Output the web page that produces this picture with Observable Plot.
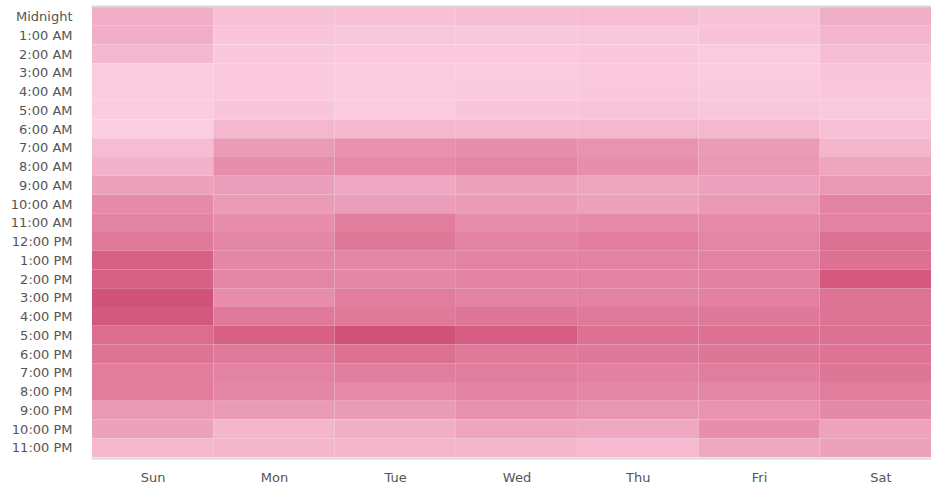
<!DOCTYPE html>
<html>
<head>
<meta charset="utf-8">
<script src="https://cdn.jsdelivr.net/npm/d3@7"></script>
<script src="https://cdn.jsdelivr.net/npm/@observablehq/plot@0.6"></script>
<style>
  html, body { margin: 0; padding: 0; background: #fff; overflow: hidden; }
  #chart svg { display: block; max-width: none !important; }
</style>
</head>
<body>
<div id="chart"></div>
<script>
const days = ["Sun", "Mon", "Tue", "Wed", "Thu", "Fri", "Sat"];
const hours = ["Midnight", "1:00 AM", "2:00 AM", "3:00 AM", "4:00 AM", "5:00 AM", "6:00 AM", "7:00 AM", "8:00 AM", "9:00 AM", "10:00 AM", "11:00 AM", "12:00 PM", "1:00 PM", "2:00 PM", "3:00 PM", "4:00 PM", "5:00 PM", "6:00 PM", "7:00 PM", "8:00 PM", "9:00 PM", "10:00 PM", "11:00 PM"];

// relative activity (0 = lightest, 100 = darkest), one array per day, Midnight..11 PM
const sun = [25, 25, 18, 3, 3, 3, 2, 15, 22, 35, 52, 58, 65, 85, 85, 95, 90, 75, 70, 62, 62, 42, 35, 18];
const mon = [12, 8, 6, 5, 5, 8, 18, 40, 50, 38, 40, 50, 55, 55, 57, 50, 65, 85, 65, 58, 55, 40, 20, 20];
const tue = [12, 7, 5, 3, 4, 4, 18, 48, 52, 30, 38, 62, 66, 55, 55, 62, 65, 95, 72, 62, 52, 40, 25, 20];
const wed = [14, 6, 5, 4, 5, 8, 18, 50, 56, 35, 40, 50, 58, 58, 58, 58, 68, 88, 65, 62, 58, 48, 32, 20];
const thu = [15, 7, 6, 5, 6, 9, 18, 46, 50, 32, 35, 52, 62, 58, 58, 58, 65, 72, 66, 60, 55, 44, 30, 17];
const fri = [10, 10, 4, 4, 5, 7, 18, 40, 42, 36, 42, 52, 56, 58, 60, 60, 66, 72, 68, 62, 55, 46, 50, 30];
const sat = [25, 20, 14, 8, 6, 5, 12, 20, 32, 42, 58, 58, 72, 72, 92, 70, 70, 72, 70, 68, 62, 54, 34, 35];

const series = [sun, mon, tue, wed, thu, fri, sat];
const cells = [];
days.forEach((d, i) => hours.forEach((h, j) => cells.push({day: d, hour: h, value: series[i][j]})));

const chart = Plot.plot({
  width: 941,
  height: 487,
  marginTop: 7,
  marginBottom: 30,
  marginLeft: 92,
  marginRight: 0,
  style: {fontFamily: "'DejaVu Sans', sans-serif", fontSize: "13px", color: "#555", background: "#fff"},
  x: {domain: days, padding: 0, round: false, label: null, tickSize: 0, tickPadding: 15},
  y: {domain: hours, padding: 0, round: false, label: null, tickSize: 0, tickPadding: 20},
  color: {type: "linear", domain: [0, 100], range: ["#fcd0e2", "#d04c75"], interpolate: "rgb"},
  marks: [
    Plot.cell(cells, {x: "day", y: "hour", fill: "value", inset: 0}),
    Plot.frame({anchor: "top", stroke: "#d8d8d8", strokeWidth: 2, dy: -1}),
    Plot.frame({anchor: "bottom", stroke: "#d8d8d8", strokeWidth: 2, dy: 1})
  ]
});
document.getElementById("chart").appendChild(chart);
</script>
</body>
</html>
